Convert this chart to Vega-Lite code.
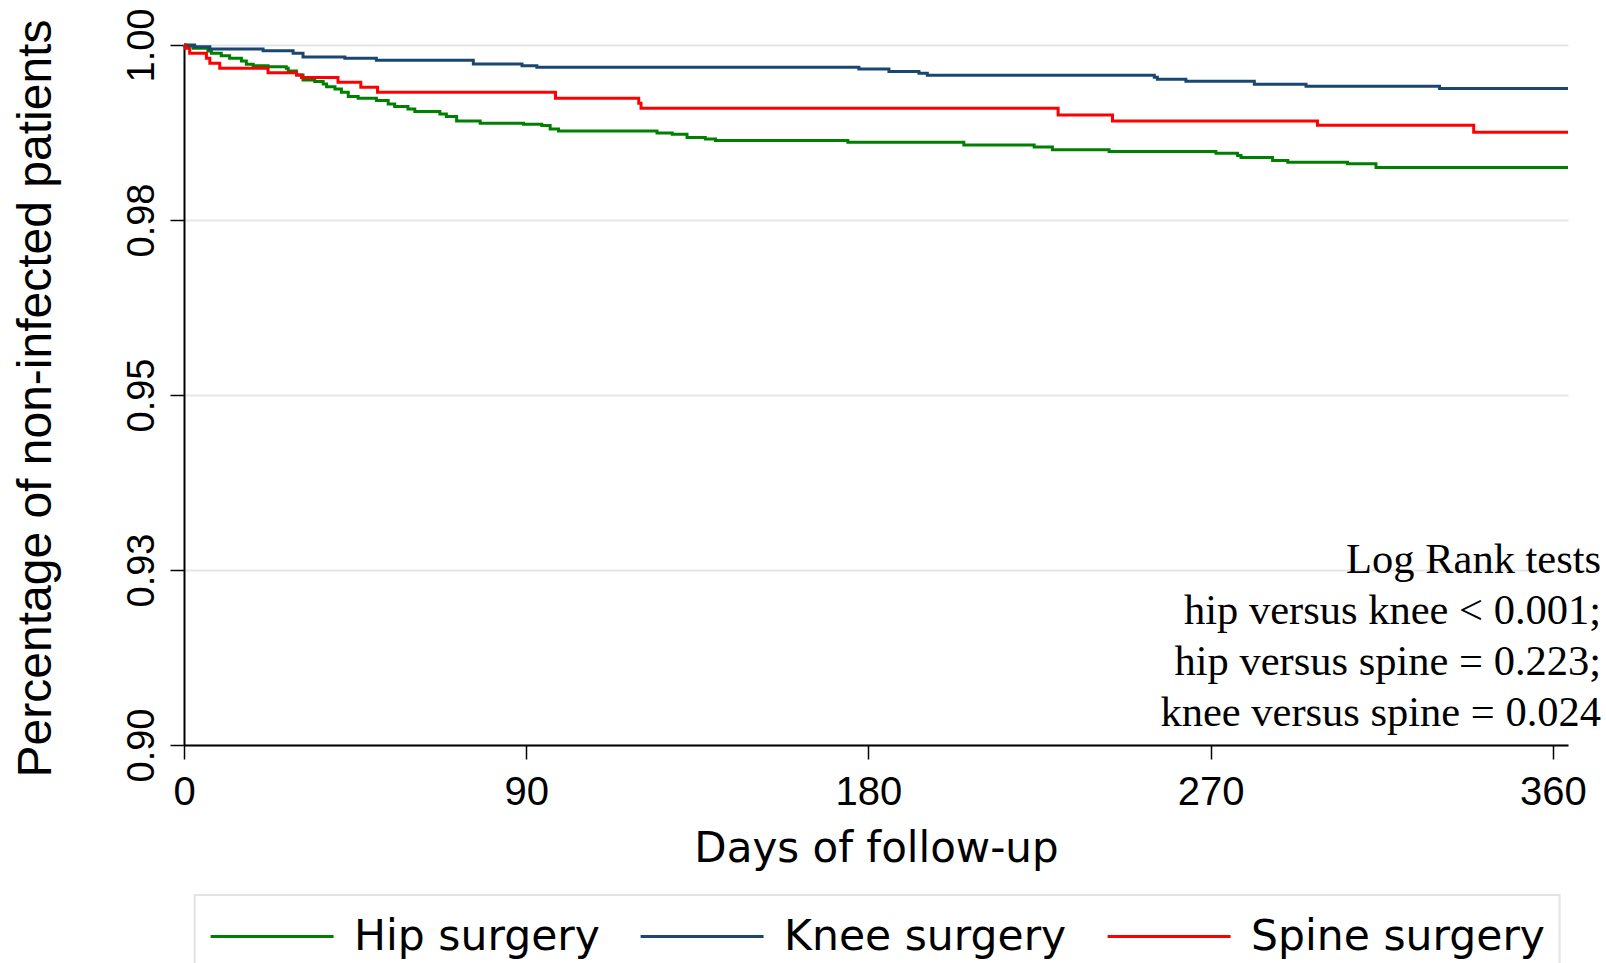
{
  "$schema": "https://vega.github.io/schema/vega-lite/v6.json",
  "width": 1384,
  "height": 700,
  "autosize": {"type": "none"},
  "padding": {"left": 184, "top": 45, "right": 38, "bottom": 218},
  "background": "white",
  "config": {
    "view": {"stroke": null},
    "legend": {"strokeWidth": 2, "strokeColor": "#e3e3e3"}
  },
  "datasets": {
    "km": [
      {"group": "Hip surgery", "day": 0, "surv": 1.0},
      {"group": "Hip surgery", "day": 0.2, "surv": 0.99986},
      {"group": "Hip surgery", "day": 2.4, "surv": 0.99952},
      {"group": "Hip surgery", "day": 6.3, "surv": 0.99914},
      {"group": "Hip surgery", "day": 7.2, "surv": 0.99881},
      {"group": "Hip surgery", "day": 9.8, "surv": 0.99848},
      {"group": "Hip surgery", "day": 12.0, "surv": 0.9981},
      {"group": "Hip surgery", "day": 15.1, "surv": 0.99771},
      {"group": "Hip surgery", "day": 16.4, "surv": 0.99724},
      {"group": "Hip surgery", "day": 18.2, "surv": 0.99705},
      {"group": "Hip surgery", "day": 22.1, "surv": 0.9969},
      {"group": "Hip surgery", "day": 26.9, "surv": 0.99667},
      {"group": "Hip surgery", "day": 27.4, "surv": 0.99629},
      {"group": "Hip surgery", "day": 29.6, "surv": 0.99572},
      {"group": "Hip surgery", "day": 31.3, "surv": 0.99501},
      {"group": "Hip surgery", "day": 34.4, "surv": 0.99477},
      {"group": "Hip surgery", "day": 36.6, "surv": 0.99443},
      {"group": "Hip surgery", "day": 37.5, "surv": 0.99405},
      {"group": "Hip surgery", "day": 39.7, "surv": 0.99372},
      {"group": "Hip surgery", "day": 41.4, "surv": 0.99324},
      {"group": "Hip surgery", "day": 43.2, "surv": 0.99263},
      {"group": "Hip surgery", "day": 45.8, "surv": 0.99239},
      {"group": "Hip surgery", "day": 50.6, "surv": 0.99206},
      {"group": "Hip surgery", "day": 53.7, "surv": 0.99158},
      {"group": "Hip surgery", "day": 55.4, "surv": 0.9912},
      {"group": "Hip surgery", "day": 58.9, "surv": 0.99087},
      {"group": "Hip surgery", "day": 60.7, "surv": 0.99049},
      {"group": "Hip surgery", "day": 67.3, "surv": 0.99015},
      {"group": "Hip surgery", "day": 69.0, "surv": 0.98977},
      {"group": "Hip surgery", "day": 71.7, "surv": 0.98915},
      {"group": "Hip surgery", "day": 77.9, "surv": 0.98882},
      {"group": "Hip surgery", "day": 89.3, "surv": 0.98868},
      {"group": "Hip surgery", "day": 94.1, "surv": 0.98849},
      {"group": "Hip surgery", "day": 96.3, "surv": 0.98801},
      {"group": "Hip surgery", "day": 98.5, "surv": 0.98773},
      {"group": "Hip surgery", "day": 124.4, "surv": 0.98744},
      {"group": "Hip surgery", "day": 128.4, "surv": 0.98725},
      {"group": "Hip surgery", "day": 132.3, "surv": 0.98677},
      {"group": "Hip surgery", "day": 137.1, "surv": 0.98658},
      {"group": "Hip surgery", "day": 139.8, "surv": 0.98635},
      {"group": "Hip surgery", "day": 174.6, "surv": 0.98611},
      {"group": "Hip surgery", "day": 205.1, "surv": 0.98573},
      {"group": "Hip surgery", "day": 223.6, "surv": 0.98544},
      {"group": "Hip surgery", "day": 228.4, "surv": 0.98502},
      {"group": "Hip surgery", "day": 243.3, "surv": 0.98478},
      {"group": "Hip surgery", "day": 271.4, "surv": 0.98454},
      {"group": "Hip surgery", "day": 277.1, "surv": 0.98421},
      {"group": "Hip surgery", "day": 278.0, "surv": 0.98392},
      {"group": "Hip surgery", "day": 286.3, "surv": 0.98349},
      {"group": "Hip surgery", "day": 290.3, "surv": 0.98325},
      {"group": "Hip surgery", "day": 306.0, "surv": 0.98302},
      {"group": "Hip surgery", "day": 313.5, "surv": 0.98249},
      {"group": "Hip surgery", "day": 364, "surv": 0.98249},
      {"group": "Knee surgery", "day": 0, "surv": 1.0},
      {"group": "Knee surgery", "day": 2.8, "surv": 0.99976},
      {"group": "Knee surgery", "day": 6.8, "surv": 0.99943},
      {"group": "Knee surgery", "day": 20.8, "surv": 0.99919},
      {"group": "Knee surgery", "day": 28.7, "surv": 0.99881},
      {"group": "Knee surgery", "day": 31.3, "surv": 0.99829},
      {"group": "Knee surgery", "day": 42.3, "surv": 0.9981},
      {"group": "Knee surgery", "day": 50.6, "surv": 0.99781},
      {"group": "Knee surgery", "day": 76.1, "surv": 0.99729},
      {"group": "Knee surgery", "day": 88.9, "surv": 0.99705},
      {"group": "Knee surgery", "day": 92.8, "surv": 0.99681},
      {"group": "Knee surgery", "day": 177.5, "surv": 0.99657},
      {"group": "Knee surgery", "day": 185.4, "surv": 0.9962},
      {"group": "Knee surgery", "day": 193.3, "surv": 0.99596},
      {"group": "Knee surgery", "day": 195.5, "surv": 0.99567},
      {"group": "Knee surgery", "day": 255.2, "surv": 0.99539},
      {"group": "Knee surgery", "day": 256.0, "surv": 0.9951},
      {"group": "Knee surgery", "day": 263.5, "surv": 0.99481},
      {"group": "Knee surgery", "day": 281.5, "surv": 0.99439},
      {"group": "Knee surgery", "day": 295.1, "surv": 0.99412},
      {"group": "Knee surgery", "day": 330.2, "surv": 0.99377},
      {"group": "Knee surgery", "day": 364, "surv": 0.99377},
      {"group": "Spine surgery", "day": 0, "surv": 1.0},
      {"group": "Spine surgery", "day": 0.35, "surv": 0.99952},
      {"group": "Spine surgery", "day": 1.5, "surv": 0.99881},
      {"group": "Spine surgery", "day": 5.9, "surv": 0.9981},
      {"group": "Spine surgery", "day": 6.8, "surv": 0.99738},
      {"group": "Spine surgery", "day": 9.4, "surv": 0.99667},
      {"group": "Spine surgery", "day": 22.1, "surv": 0.99605},
      {"group": "Spine surgery", "day": 29.6, "surv": 0.99572},
      {"group": "Spine surgery", "day": 30.9, "surv": 0.99534},
      {"group": "Spine surgery", "day": 40.5, "surv": 0.99467},
      {"group": "Spine surgery", "day": 46.5, "surv": 0.99396},
      {"group": "Spine surgery", "day": 50.9, "surv": 0.99324},
      {"group": "Spine surgery", "day": 97.7, "surv": 0.99239},
      {"group": "Spine surgery", "day": 119.6, "surv": 0.99168},
      {"group": "Spine surgery", "day": 120.2, "surv": 0.99096},
      {"group": "Spine surgery", "day": 229.9, "surv": 0.99001},
      {"group": "Spine surgery", "day": 244.2, "surv": 0.98915},
      {"group": "Spine surgery", "day": 298.1, "surv": 0.98854},
      {"group": "Spine surgery", "day": 339.2, "surv": 0.98754},
      {"group": "Spine surgery", "day": 364, "surv": 0.98754}
    ],
    "notes": [
      {"label": "Log Rank tests", "day": 372.7, "surv": 0.9246},
      {"label": "hip versus knee < 0.001;", "day": 372.7, "surv": 0.9173},
      {"label": "hip versus spine = 0.223;", "day": 372.7, "surv": 0.91},
      {"label": "knee versus spine = 0.024", "day": 372.7, "surv": 0.9027}
    ]
  },
  "layer": [
    {
      "data": {"name": "km"},
      "mark": {"type": "line", "interpolate": "step-after", "strokeWidth": 3},
      "encoding": {
        "x": {
          "field": "day", "type": "quantitative",
          "title": "Days of follow-up",
          "scale": {"domain": [0, 364], "nice": false, "zero": false},
          "axis": {
            "title": "Days of follow-up",
            "values": [0, 90, 180, 270, 360],
            "grid": false,
            "domainColor": "black", "domainWidth": 2,
            "tickColor": "black", "tickWidth": 1.5, "tickSize": 14,
            "labelFont": "Liberation Sans", "labelFontSize": 40, "labelColor": "black",
            "labelPadding": 13, "labelFlush": false, "labelOverlap": false,
            "titleFont": "DejaVu Sans", "titleFontSize": 42, "titleColor": "black",
            "titleFontWeight": "normal", "titleBaseline": "alphabetic", "titleY": 116
          }
        },
        "y": {
          "field": "surv", "type": "quantitative",
          "title": "Percentage of non-infected patients",
          "scale": {"domain": [0.9, 1.0], "nice": false, "zero": false},
          "axis": {
            "title": "Percentage of non-infected patients",
            "values": [0.9, 0.925, 0.95, 0.975, 1.0],
            "labelExpr": "format(datum.value + 0.000001, '.2f')",
            "grid": true, "gridColor": "#e6e6e6", "gridWidth": 2,
            "domainColor": "black", "domainWidth": 2,
            "tickColor": "black", "tickWidth": 1.5, "tickSize": 14,
            "labelAngle": 270, "labelAlign": "center", "labelBaseline": "alphabetic",
            "labelPadding": 17, "labelFont": "Liberation Sans", "labelFontSize": 38,
            "labelColor": "black", "labelFlush": false, "labelOverlap": false,
            "titleFont": "Liberation Sans", "titleFontSize": 48, "titleColor": "black",
            "titleFontWeight": "normal", "titleAngle": 270, "titleAlign": "center",
            "titleBaseline": "alphabetic", "titleX": -134, "titleY": 353
          }
        },
        "color": {
          "field": "group", "type": "nominal",
          "scale": {
            "domain": ["Hip surgery", "Knee surgery", "Spine surgery"],
            "range": ["#008000", "#1a476f", "#ff0000"]
          },
          "legend": {
            "title": null,
            "orient": "none", "legendX": 10.6, "legendY": 850,
            "direction": "horizontal",
            "symbolType": "stroke", "symbolSize": 15129, "symbolStrokeWidth": 3,
            "labelFont": "DejaVu Sans", "labelFontSize": 42.5, "labelColor": "black",
            "labelOffset": 19, "labelLimit": 600,
            "columnPadding": 39, "padding": 14.5, "clipHeight": 54
          }
        }
      }
    },
    {
      "data": {"name": "notes"},
      "mark": {"type": "text", "align": "right", "baseline": "alphabetic", "font": "Liberation Serif", "fontSize": 42.5, "color": "black"},
      "encoding": {
        "x": {"field": "day", "type": "quantitative", "title": "Days of follow-up", "scale": {"domain": [0, 364], "nice": false, "zero": false}},
        "y": {"field": "surv", "type": "quantitative", "title": "Percentage of non-infected patients", "scale": {"domain": [0.9, 1.0], "nice": false, "zero": false}},
        "text": {"field": "label"}
      }
    }
  ]
}
